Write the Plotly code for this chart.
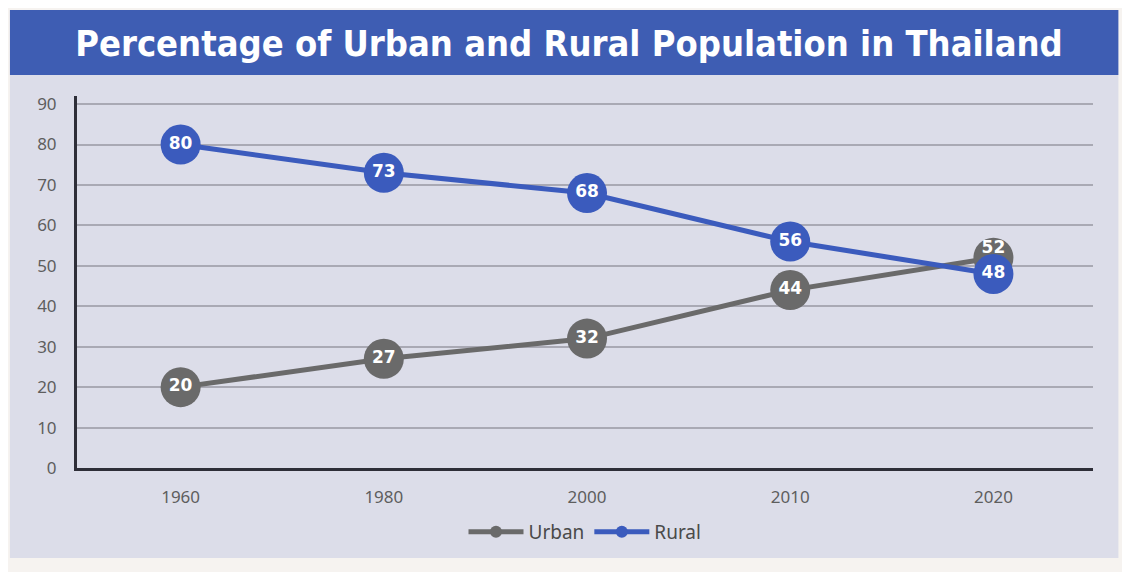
import plotly.graph_objects as go

years = ["1960", "1980", "2000", "2010", "2020"]
urban = [20, 27, 32, 44, 52]
rural = [80, 73, 68, 56, 48]
y_ticks = [0, 10, 20, 30, 40, 50, 60, 70, 80, 90]

blue = "#3b5bbd"
grey = "#6a6a6a"
label_font = dict(color="white", size=17, family="DejaVu Sans", weight="bold")

fig = go.Figure()

fig.add_trace(go.Scatter(x=years, y=urban, name="Urban", mode="lines+markers",
                         line=dict(color=grey, width=5),
                         marker=dict(size=40, color=grey)))
fig.add_trace(go.Scatter(x=years, y=rural, name="Rural", mode="lines+markers",
                         line=dict(color=blue, width=5),
                         marker=dict(size=40, color=blue)))

# value labels drawn on top of both lines
fig.add_trace(go.Scatter(x=years, y=urban, mode="text", showlegend=False, hoverinfo="skip",
                         text=[str(v) for v in urban],
                         textposition=["middle center"] * 4 + ["top center"],
                         textfont=label_font))
fig.add_trace(go.Scatter(x=years, y=rural, mode="text", showlegend=False, hoverinfo="skip",
                         text=[str(v) for v in rural], textposition="middle center",
                         textfont=label_font))

# background panel and title banner
fig.add_shape(type="rect", xref="paper", yref="paper", x0=-0.066, x1=1.025, y0=-0.242, y1=1.0565,
              fillcolor="#dcdde9", line=dict(width=0), layer="below")
fig.add_shape(type="rect", xref="paper", yref="paper", x0=-0.066, x1=1.025, y0=1.0565, y1=1.231,
              fillcolor="#3e5db3", line=dict(width=0), layer="below")

fig.update_layout(
    width=1122, height=564,
    paper_bgcolor="#f6f3f0", plot_bgcolor="rgba(0,0,0,0)",
    margin=dict(l=69, r=37, t=88, b=104),
    title=dict(text="<b>Percentage of Urban and Rural Population in Thailand</b>",
               x=0.5, xanchor="center", y=0.938, yanchor="middle",
               font=dict(family="DejaVu Sans Condensed", size=36, color="white")),
    xaxis=dict(type="category", range=[-0.51, 4.49], showgrid=False, ticks="",
               showline=True, linecolor="#2e2e38", linewidth=3, automargin=False,
               ticklabelstandoff=12,
               tickfont=dict(family="Noto Sans", size=17, color="#5e5e5e")),
    yaxis=dict(range=[0, 92], tickvals=y_ticks, showgrid=True, gridcolor="#a9a9b4", gridwidth=1.5,
               showline=True, linecolor="#2e2e38", linewidth=3, zeroline=False, ticks="",
               ticklabelstandoff=14, automargin=False,
               tickfont=dict(family="Noto Sans", size=17, color="#5e5e5e")),
    showlegend=True,
    legend=dict(orientation="h", x=0.5, xanchor="center", y=-0.172, yanchor="middle",
                itemsizing="constant", itemwidth=55, bgcolor="rgba(0,0,0,0)",
                font=dict(family="Noto Sans", size=19, color="#4a4a4a")),
)

fig.write_html("out.html")
